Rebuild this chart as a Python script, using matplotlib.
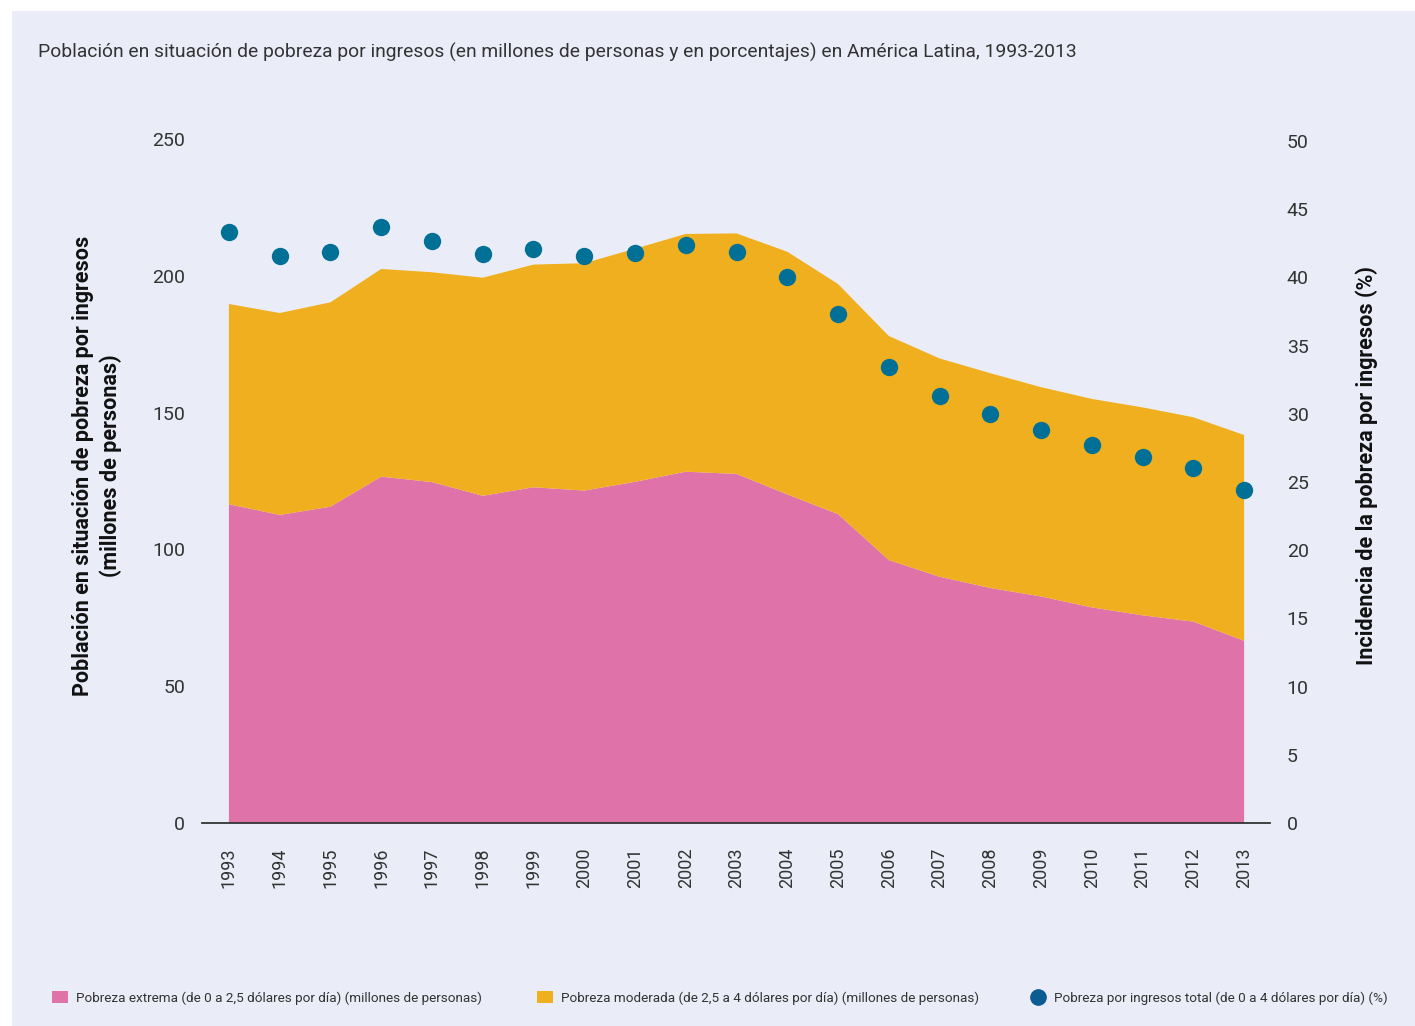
import matplotlib.pyplot as plt
from matplotlib.patches import Rectangle, Patch
from matplotlib.lines import Line2D
from matplotlib import font_manager

# datos
years = list(range(1993, 2014))
extrema = [116.5, 112.6, 115.6, 126.6, 124.6, 119.6, 122.7, 121.5, 124.7, 128.4, 127.6,
           120.1, 112.9, 96.1, 90.0, 85.9, 82.8, 78.8, 75.9, 73.6, 66.6]
moderada = [73.2, 73.8, 74.7, 75.9, 76.7, 79.7, 81.4, 83.1, 85.2, 86.9, 87.9,
            88.7, 84.1, 81.9, 79.8, 78.5, 76.5, 76.2, 76.0, 74.7, 75.2]
incidencia = [43.3, 41.6, 41.9, 43.7, 42.7, 41.7, 42.1, 41.6, 41.8, 42.4, 41.9,
              40.0, 37.3, 33.4, 31.3, 30.0, 28.8, 27.7, 26.8, 26.0, 24.4]
left_ticks = [0, 50, 100, 150, 200, 250]
right_ticks = list(range(0, 55, 5))

names = {f.name for f in font_manager.fontManager.ttflist}
fam = 'Liberation Sans Narrow' if 'Liberation Sans Narrow' in names else 'Roboto'
plt.rcParams['font.family'] = [fam, 'DejaVu Sans']

bg = '#eaedf7'
pink = '#e072aa'
orange = '#f0af1e'
blue = '#007096'
txt = '#333333'

fig = plt.figure(figsize=(14.15, 10.26), dpi=100)
fig.patches.append(Rectangle((12 / 1415, 0), 1, 1 - 11 / 1026, transform=fig.transFigure,
                             facecolor=bg, edgecolor='none', zorder=-10))

ax = fig.add_axes([202 / 1415, 1 - 823 / 1026, 1068 / 1415, 684 / 1026])
ax.set_facecolor('none')
ax.stackplot(years, extrema, moderada, colors=[pink, orange], linewidth=0)
ax.set_xlim(1992.47, 2013.51)
ax.set_ylim(0, 250)
ax.set_yticks(left_ticks)
ax.set_xticks(years)
ax.set_xticklabels([str(y) for y in years], rotation=90)
for s in ['top', 'left', 'right']:
    ax.spines[s].set_visible(False)
ax.spines['bottom'].set_color(txt)
ax.spines['bottom'].set_linewidth(1.3)
ax.tick_params(axis='y', length=0, pad=12, labelsize=14, labelcolor=txt)
ax.tick_params(axis='x', length=0, pad=18, labelsize=13, labelcolor=txt)
ax.set_ylabel('Población en situación de pobreza por ingresos\n(millones de personas)',
              fontsize=15.5, fontweight='bold', color='#111111', linespacing=1.3)
ax.yaxis.set_label_coords(-0.075, 0.522)

ax2 = ax.twinx()
ax2.plot(years, incidencia, 'o', color=blue, markersize=12.5, markeredgewidth=0)
ax2.set_ylim(0.15, 50.15)
ax2.set_yticks(right_ticks)
for s in ['top', 'left', 'right', 'bottom']:
    ax2.spines[s].set_visible(False)
ax2.tick_params(axis='y', length=0, pad=12, labelsize=14, labelcolor=txt)
ax2.set_ylabel('Incidencia de la pobreza por ingresos (%)', fontsize=15.5,
               fontweight='bold', color='#111111')
ax2.yaxis.set_label_coords(1.0796, 0.523)

fig.text(38 / 1415, 1 - 52 / 1026,
         'Población en situación de pobreza por ingresos (en millones de personas y en porcentajes) en América Latina, 1993-2013',
         fontsize=13.9, color=txt, va='center', ha='left')

handles = [Patch(facecolor=pink, edgecolor='none'),
           Patch(facecolor=orange, edgecolor='none'),
           Line2D([], [], marker='o', linestyle='none', color='#0b5c92', markersize=11)]
labels = ['Pobreza extrema (de 0 a 2,5 dólares por día) (millones de personas)',
          'Pobreza moderada (de 2,5 a 4 dólares por día) (millones de personas)',
          'Pobreza por ingresos total (de 0 a 4 dólares por día) (%)']
xs = [48, 533, 1026]
for h, l, x in zip(handles, labels, xs):
    fig.legend([h], [l], loc='center left', bbox_to_anchor=(x / 1415, 1 - 998 / 1026),
               frameon=False, fontsize=9.7, handlelength=1.2, handleheight=1.0,
               handletextpad=0.6, borderpad=0, borderaxespad=0.3, labelcolor=txt)

fig.savefig('out.png', dpi=100, facecolor='white')
